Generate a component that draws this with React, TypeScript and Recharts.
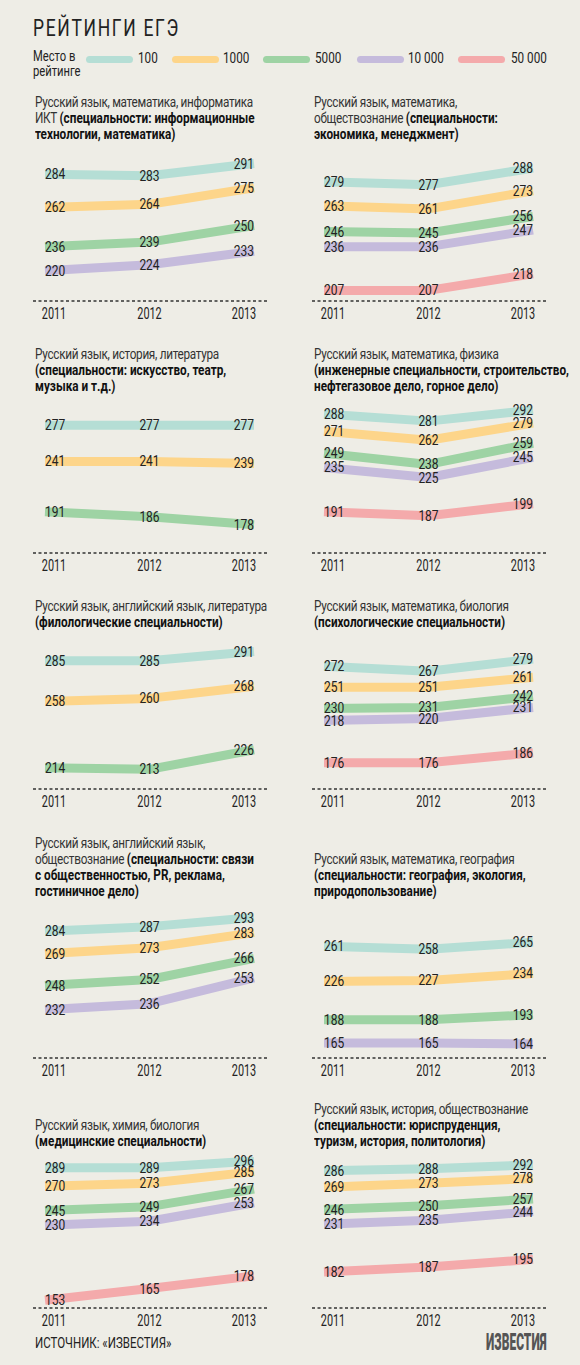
import React from 'react';
import { LineChart, Line, XAxis, YAxis, LabelList } from 'recharts';

const FONT = 'Roboto, "Noto Sans", sans-serif';
const BG = '#eeede6';
const SX = 0.84; // горизонтальное сжатие шрифта (узкий шрифт оригинала)

const years = [2011, 2012, 2013];
const rankLabels = ['100', '1000', '5000', '10 000', '50 000'];
const rankColors = ['#b5ded5', '#fdd58a', '#9ed3a4', '#c5bbdc', '#f4aaab'];

// баллы по годам, строки — место в рейтинге (100, 1000, 5000, 10 000, 50 000)
const itScores = [[284, 283, 291], [262, 264, 275], [236, 239, 250], [220, 224, 233]];
const econScores = [[279, 277, 288], [263, 261, 273], [246, 245, 256], [236, 236, 247], [207, 207, 218]];
const artScores = [[277, 277, 277], [241, 241, 239], [191, 186, 178]];
const engScores = [[288, 281, 292], [271, 262, 279], [249, 238, 259], [235, 225, 245], [191, 187, 199]];
const philScores = [[285, 285, 291], [258, 260, 268], [214, 213, 226]];
const psyScores = [[272, 267, 279], [251, 251, 261], [230, 231, 242], [218, 220, 231], [176, 176, 186]];
const prScores = [[284, 287, 293], [269, 273, 283], [248, 252, 266], [232, 236, 253]];
const geoScores = [[261, 258, 265], [226, 227, 234], [188, 188, 193], [165, 165, 164]];
const medScores = [[289, 289, 296], [270, 273, 285], [245, 249, 267], [230, 234, 253], [153, 165, 178]];
const lawScores = [[286, 288, 292], [269, 273, 278], [246, 250, 257], [231, 235, 244], [182, 187, 195]];

// заголовки: **жирный текст**
const panels = [
  { title: ['Русский язык, математика, информатика', 'ИКТ **(специальности: информационные**', '**технологии, математика)**'], scores: itScores, min: 200 },
  { title: ['Русский язык, математика,', 'обществознание **(специальности:**', '**экономика, менеджмент)**'], scores: econScores, min: 200 },
  { title: ['Русский язык, история, литература', '**(специальности: искусство, театр,**', '**музыка и т.д.)**'], scores: artScores, min: 150 },
  { title: ['Русский язык, математика, физика', '**(инженерные специальности, строительство,**', '**нефтегазовое дело, горное дело)**'], scores: engScores, min: 150 },
  { title: ['Русский язык, английский язык, литература', '**(филологические специальности)**'], scores: philScores, min: 200 },
  { title: ['Русский язык, математика, биология', '**(психологические специальности)**'], scores: psyScores, min: 150 },
  { title: ['Русский язык, английский язык,', 'обществознание **(специальности: связи**', '**с общественностью, PR, реклама,**', '**гостиничное дело)**'], scores: prScores, min: 200 },
  { title: ['Русский язык, математика, география', '**(специальности: география, экология,**', '**природопользование)**'], scores: geoScores, min: 150 },
  { title: ['Русский язык, химия, биология', '**(медицинские специальности)**'], scores: medScores, min: 145 },
  { title: ['Русский язык, история, обществознание', '**(специальности: юриспруденция,**', '**туризм, история, политология)**'], scores: lawScores, min: 145 },
];

const colX = [33, 312];
const rowTop = [150, 402, 638, 907, 1157];
const PLOT_H = 151;
const PLOT_W = 235;
const M_TOP = 10;
const AXIS_H = 30;

function Cond({ sx = SX, origin = 'left top', style, children }: any) {
  return (
    <div style={{ position: 'absolute', whiteSpace: 'nowrap', transform: `scaleX(${sx})`, transformOrigin: origin, ...style }}>
      {children}
    </div>
  );
}

function TitleLine({ text }: { text: string }) {
  const parts = text.split('**');
  return (
    <div style={{ whiteSpace: 'nowrap' }}>
      {parts.map((p, i) =>
        i % 2
          ? <b key={i} style={{ color: '#111' }}>{p}</b>
          : <span key={i} style={{ letterSpacing: -0.35 }}>{p}</span>
      )}
    </div>
  );
}

function ValueLabel(props: any) {
  const x = props.x ?? props.viewBox?.x;
  const y = props.y ?? props.viewBox?.y;
  const i = props.index;
  const anchor = i === 0 ? 'start' : i === years.length - 1 ? 'end' : 'middle';
  return (
    <text transform={`translate(${x},${y}) scale(0.8,1)`} dy={5} textAnchor={anchor} fontFamily={FONT} fontSize={15} fill="#222">
      {props.value}
    </text>
  );
}

function YearTick(props: any) {
  const { x, y, payload } = props;
  const dx = payload.value === years[0] ? 9 : payload.value === years[years.length - 1] ? -10 : 0;
  return (
    <text transform={`translate(${x + dx},${y}) scale(0.68,1)`} dy={18} textAnchor="middle" fontFamily={FONT} fontSize={16} fill="#222">
      {payload.value}
    </text>
  );
}

const dashed = { stroke: '#333', strokeWidth: 1.5, strokeDasharray: '3 2.5' };

function Panel({ idx }: { idx: number }) {
  const p = panels[idx];
  const left = colX[idx % 2];
  const top = rowTop[Math.floor(idx / 2)];
  const data = years.map((yr, i) => {
    const row: Record<string, number> = { year: yr };
    p.scores.forEach((s, k) => { row['r' + k] = s[i]; });
    return row;
  });
  const lines = p.title.length;
  return (
    <>
      <Cond style={{ left: left + 2, top: top - 8 - lines * 16, fontSize: 14, lineHeight: '16px', color: '#333' }}>
        {p.title.map((t, i) => <TitleLine key={i} text={t} />)}
      </Cond>
      <div style={{ position: 'absolute', left, top: top - M_TOP }}>
        <LineChart width={PLOT_W + 5} height={M_TOP + PLOT_H + AXIS_H} data={data}
          margin={{ top: M_TOP, right: 5, left: 0, bottom: 0 }} style={{ overflow: 'visible' }}>
          <XAxis dataKey="year" type="number" domain={[years[0], years[years.length - 1]]} ticks={years}
            padding={{ left: 12, right: 14 }} height={AXIS_H} tickLine={false} tickSize={0} tickMargin={0}
            axisLine={dashed} tick={<YearTick />} interval={0} />
          <YAxis type="number" domain={[p.min, 300]} width={0} tick={false} tickLine={false} axisLine={dashed} allowDataOverflow />
          {p.scores.map((_, k) => (
            <Line key={k} type="linear" dataKey={'r' + k} stroke={rankColors[k]} strokeWidth={9}
              strokeLinecap="butt" strokeLinejoin="round" dot={false} activeDot={false} isAnimationActive={false}>
              <LabelList dataKey={'r' + k} content={<ValueLabel />} />
            </Line>
          ))}
        </LineChart>
      </div>
    </>
  );
}

const legendSwatchX = [86, 172, 263, 357, 458];
const legendTextX = [138, 223, 315, 408, 511];

export default function App() {
  return (
    <div style={{ position: 'relative', width: 580, height: 1365, background: BG, fontFamily: FONT, color: '#222', overflow: 'hidden' }}>
      <style>{`body{margin:0;background:${BG}}`}</style>
      <Cond sx={0.76} style={{ left: 33, top: 15, fontSize: 23, letterSpacing: 2.2, color: '#222' }}>РЕЙТИНГИ ЕГЭ</Cond>
      <Cond sx={0.8} style={{ left: 33, top: 49, fontSize: 14, lineHeight: '15px', color: '#222' }}>
        Место в<br />рейтинге
      </Cond>
      {rankLabels.map((r, i) => (
        <React.Fragment key={r}>
          <div style={{ position: 'absolute', left: legendSwatchX[i], top: 56, width: 47, height: 7, borderRadius: 4, background: rankColors[i] }} />
          <Cond sx={0.78} style={{ left: legendTextX[i], top: 50, fontSize: 15, lineHeight: '17px', color: '#222' }}>{r}</Cond>
        </React.Fragment>
      ))}
      {panels.map((_, i) => <Panel key={i} idx={i} />)}
      <Cond sx={0.82} style={{ left: 35, top: 1335, fontSize: 14, color: '#222' }}>ИСТОЧНИК: «ИЗВЕСТИЯ»</Cond>
      <Cond sx={0.52} origin="right top" style={{ right: 33, top: 1329, fontSize: 23, fontWeight: 900, color: '#555' }}>ИЗВЕСТИЯ</Cond>
    </div>
  );
}
